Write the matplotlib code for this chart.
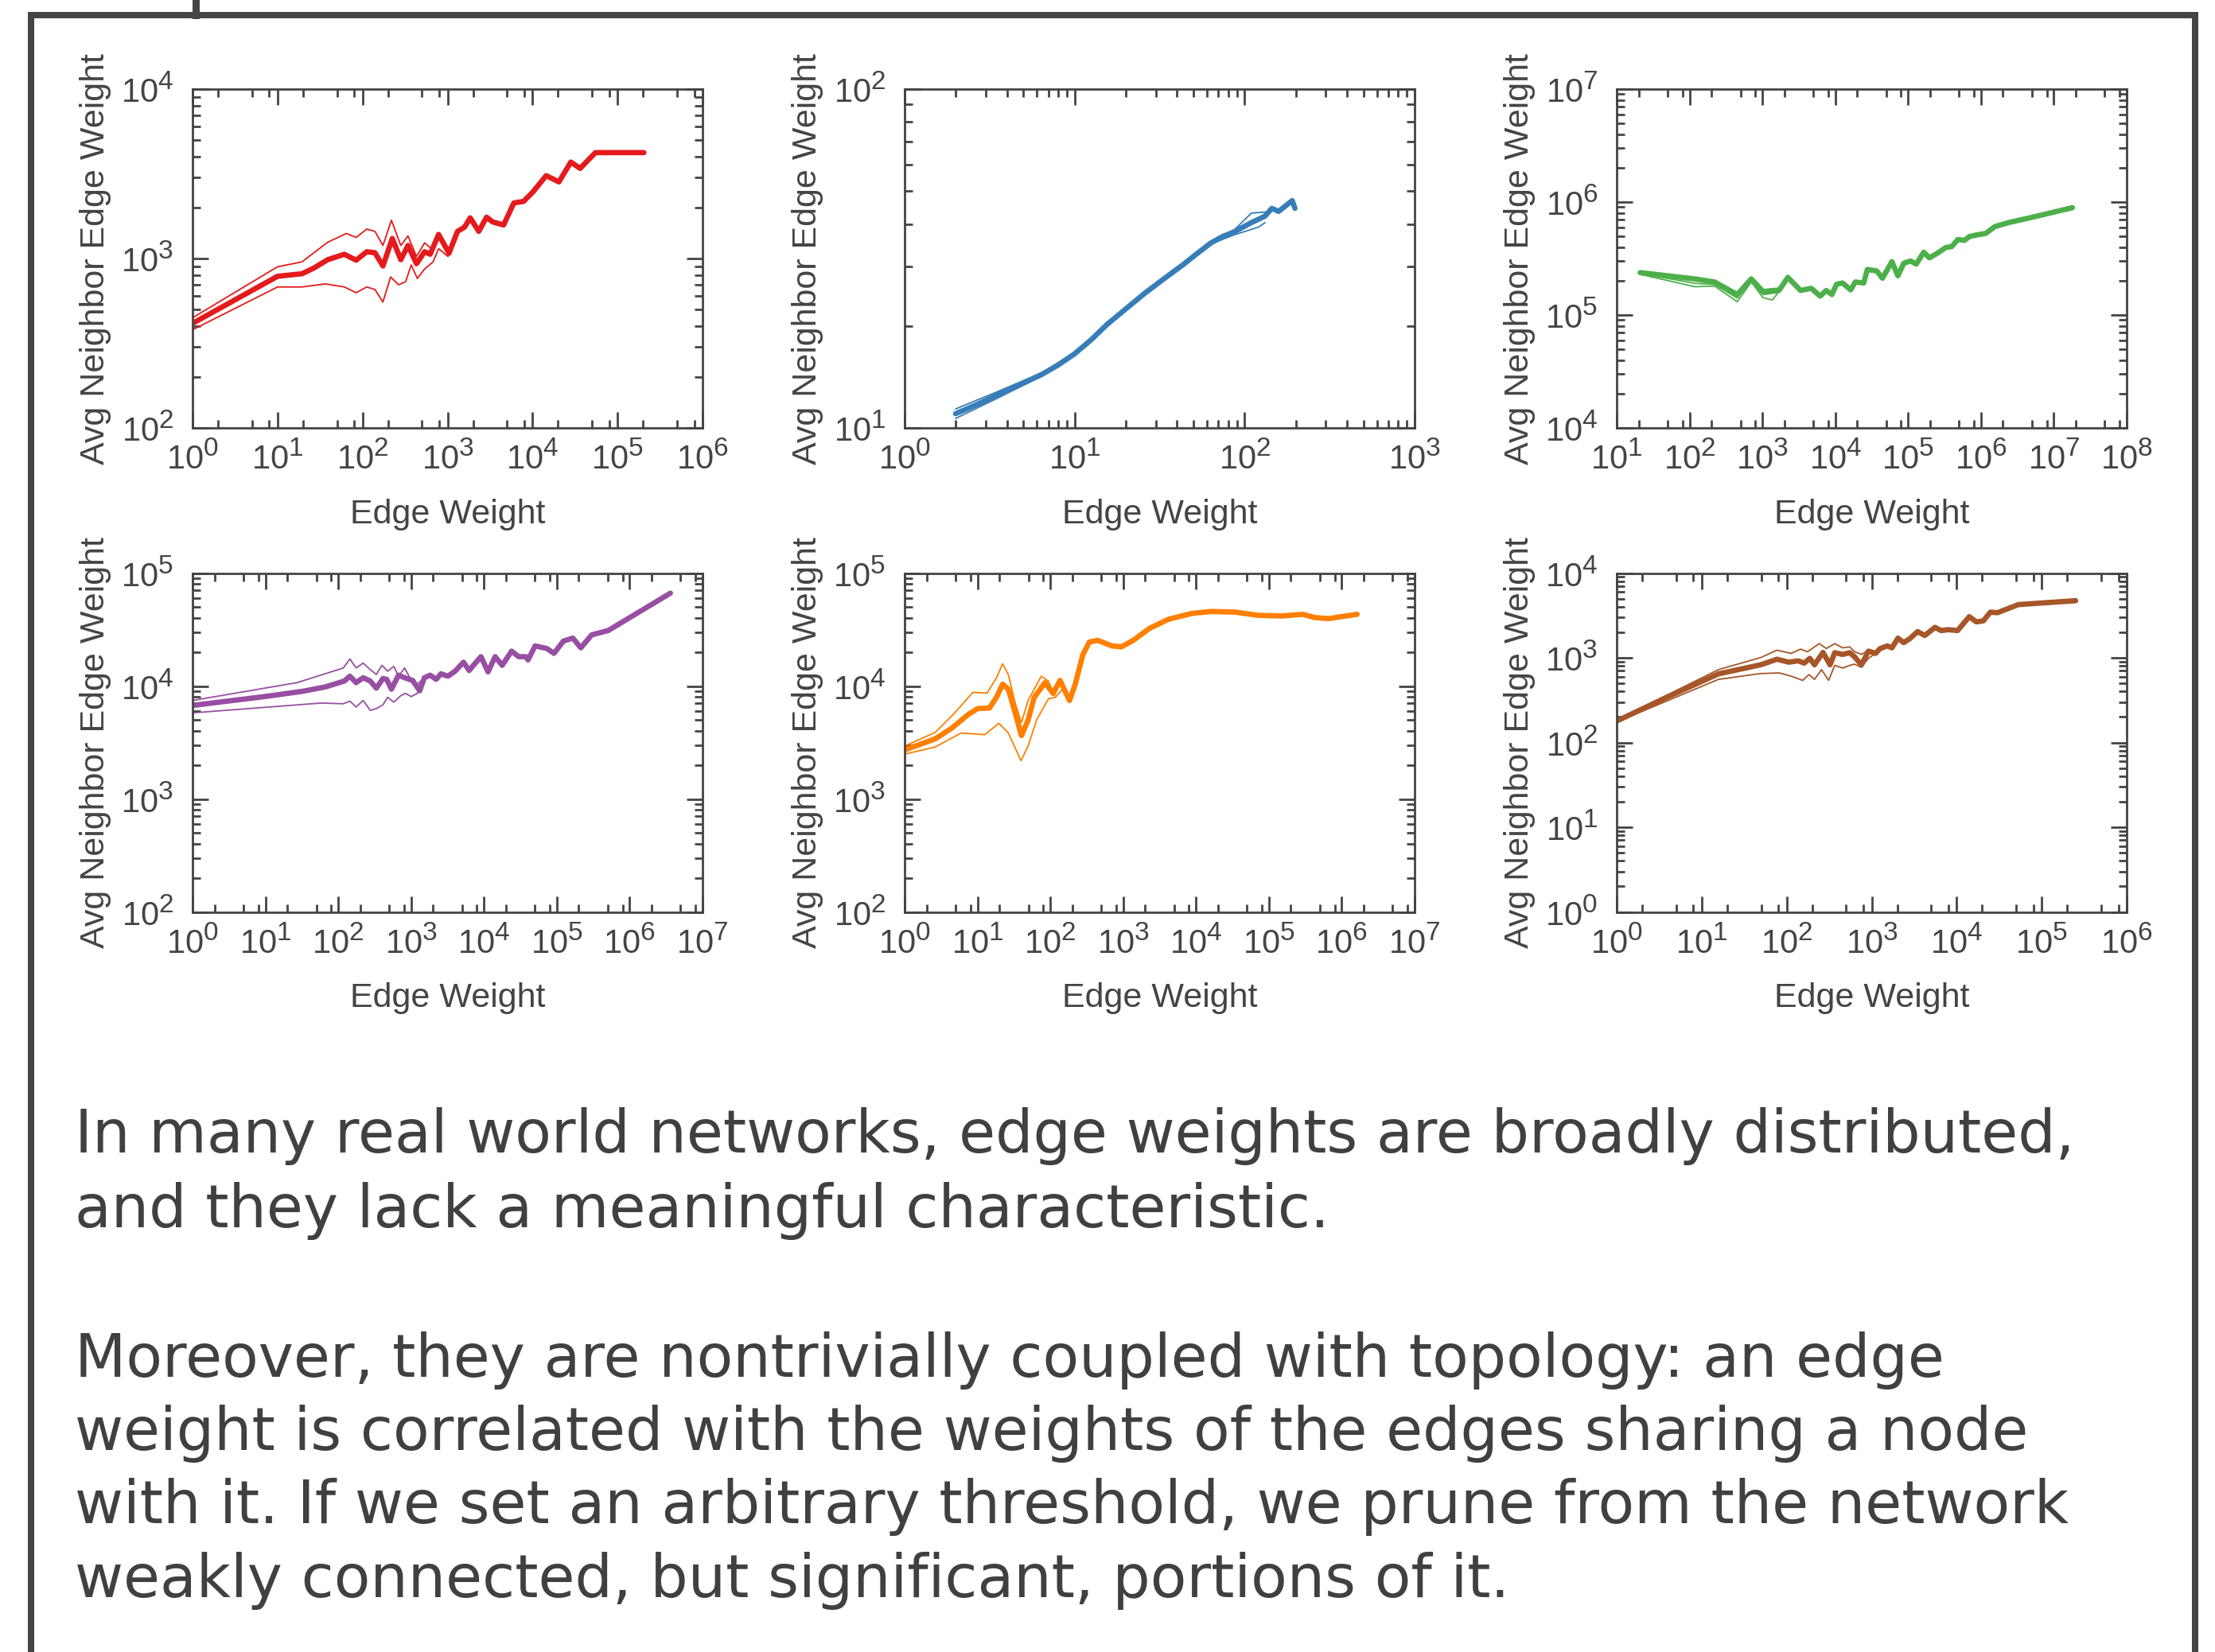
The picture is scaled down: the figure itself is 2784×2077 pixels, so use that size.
import numpy as np
import matplotlib
matplotlib.use('Agg')
import matplotlib.pyplot as plt
import matplotlib._mathtext as mathtext_internals
from matplotlib.patches import Rectangle
from matplotlib.lines import Line2D
from matplotlib.ticker import LogLocator, NullFormatter

plt.rcParams['font.family'] = ['Liberation Sans', 'DejaVu Sans']
plt.rcParams['mathtext.fontset'] = 'custom'
plt.rcParams['mathtext.rm'] = 'Liberation Sans'
plt.rcParams['mathtext.it'] = 'Liberation Sans:italic'
plt.rcParams['mathtext.default'] = 'regular'
# exponents in the original are a bit larger than matplotlib's default
mathtext_internals.SHRINK_FACTOR = 0.8

GREY = '#444444'
TEXT_GREY = '#404040'

# all values below are log10 of the plotted quantity
red_x = [0, 1.0, 1.287, 1.425, 1.59, 1.786, 1.925, 2.05, 2.146, 2.24, 2.35, 2.45, 2.535, 2.635, 2.73, 2.795,
         2.895, 3.017, 3.117, 3.2, 3.267, 3.367, 3.46, 3.53, 3.66, 3.78, 3.894, 4.005, 4.16, 4.31, 4.45, 4.56,
         4.74, 5.31]
red_y = [2.617, 2.895, 2.91, 2.943, 2.993, 3.025, 2.99, 3.04, 3.034, 2.956, 3.118, 2.993, 3.077, 2.969, 3.04,
         3.025, 3.142, 3.031, 3.16, 3.185, 3.24, 3.16, 3.244, 3.216, 3.198, 3.328, 3.337, 3.393, 3.489, 3.452,
         3.569, 3.532, 3.625, 3.625]
red_hi_x = [0, 1.0, 1.287, 1.59, 1.81, 1.925, 2.05, 2.146, 2.24, 2.34, 2.45, 2.535, 2.635, 2.73, 2.81, 2.895,
            3.017, 3.117]
red_hi_y = [2.65, 2.951, 2.98, 3.096, 3.148, 3.124, 3.174, 3.16, 3.077, 3.226, 3.077, 3.133, 3.012, 3.092,
            3.058, 3.151, 3.04, 3.16]
red_lo_x = [0, 1.0, 1.287, 1.564, 1.786, 1.925, 2.05, 2.146, 2.24, 2.33, 2.424, 2.507, 2.573, 2.645, 2.73,
            2.83, 2.895, 3.006, 3.117]
red_lo_y = [2.579, 2.832, 2.832, 2.85, 2.832, 2.798, 2.832, 2.817, 2.743, 2.891, 2.845, 2.863, 2.962, 2.882,
            2.938, 2.98, 3.058, 3.012, 3.16]

blue_x = [0.30, 0.416, 0.527, 0.665, 0.804, 0.901, 0.998, 1.095, 1.192, 1.303, 1.414, 1.525, 1.636, 1.719,
          1.802, 1.871, 1.94, 2.04, 2.12, 2.16, 2.2, 2.245, 2.28, 2.296]
blue_y = [1.042, 1.067, 1.093, 1.125, 1.157, 1.185, 1.218, 1.259, 1.306, 1.352, 1.398, 1.44, 1.481, 1.514,
          1.546, 1.565, 1.579, 1.606, 1.625, 1.648, 1.639, 1.657, 1.671, 1.648]
blue_hi_x = [0.30, 0.527, 0.804, 0.998, 1.192, 1.414, 1.636, 1.802, 1.94, 2.04, 2.12]
blue_hi_y = [1.056, 1.103, 1.162, 1.221, 1.308, 1.399, 1.482, 1.548, 1.585, 1.634, 1.637]
blue_lo_x = [0.30, 0.527, 0.804, 0.998, 1.192, 1.414, 1.636, 1.802, 1.94, 2.084, 2.12]
blue_lo_y = [1.028, 1.083, 1.152, 1.215, 1.304, 1.397, 1.479, 1.543, 1.57, 1.593, 1.606]

green_x = [1.322, 2.075, 2.345, 2.654, 2.847, 3.008, 3.233, 3.349, 3.523, 3.67, 3.793, 3.876, 3.954, 4.018,
           4.1, 4.211, 4.275, 4.39, 4.44, 4.57, 4.648, 4.777, 4.86, 4.94, 5.035, 5.112, 5.215, 5.292, 5.39,
           5.517, 5.6, 5.68, 5.775, 5.84, 5.935, 6.064, 6.193, 6.386, 6.676, 7.255]
green_y = [5.375, 5.319, 5.292, 5.181, 5.319, 5.208, 5.222, 5.333, 5.217, 5.236, 5.167, 5.217, 5.181, 5.272,
           5.283, 5.222, 5.292, 5.283, 5.403, 5.389, 5.325, 5.472, 5.347, 5.458, 5.478, 5.45, 5.556, 5.506,
           5.542, 5.597, 5.606, 5.667, 5.661, 5.694, 5.708, 5.722, 5.783, 5.819, 5.861, 5.95]
green_hi_x = [1.322, 2.075, 2.345, 2.654, 2.847, 3.008, 3.233, 3.349]
green_hi_y = [5.368, 5.28, 5.27, 5.15, 5.30, 5.18, 5.2, 5.32]
green_lo_x = [1.322, 2.075, 2.345, 2.654, 2.847, 3.008, 3.137, 3.349]
green_lo_y = [5.36, 5.25, 5.256, 5.117, 5.292, 5.153, 5.133, 5.306]

purple_x = [0, 0.983, 1.5, 1.824, 2.083, 2.16, 2.245, 2.342, 2.439, 2.523, 2.614, 2.665, 2.73, 2.827, 2.911,
            3.02, 3.118, 3.182, 3.26, 3.344, 3.409, 3.506, 3.603, 3.719, 3.797, 3.881, 3.959, 4.056, 4.153,
            4.25, 4.379, 4.476, 4.573, 4.605, 4.702, 4.864, 4.961, 5.091, 5.22, 5.33, 5.479, 5.705, 6.559]
purple_y = [3.828, 3.906, 3.952, 3.992, 4.044, 4.087, 4.03, 4.073, 4.044, 3.981, 4.067, 4.059, 3.972, 4.096,
            4.073, 4.05, 3.958, 4.073, 4.096, 4.059, 4.108, 4.087, 4.131, 4.211, 4.137, 4.203, 4.26, 4.125,
            4.26, 4.183, 4.309, 4.26, 4.26, 4.231, 4.355, 4.332, 4.289, 4.398, 4.424, 4.338, 4.453, 4.491, 4.822]
purple_hi_x = [0, 1.436, 1.759, 2.07, 2.16, 2.245, 2.342, 2.439, 2.523, 2.6, 2.678, 2.762, 2.827, 2.911, 3.001,
               3.085, 3.182]
purple_hi_y = [3.872, 4.03, 4.096, 4.16, 4.24, 4.16, 4.203, 4.145, 4.102, 4.183, 4.131, 4.174, 4.087, 4.16,
               4.05, 4.016, 4.073]
purple_lo_x = [0, 1.759, 2.07, 2.16, 2.245, 2.342, 2.439, 2.523, 2.614, 2.678, 2.762, 2.859, 2.924, 3.001,
               3.085, 3.15, 3.26]
purple_lo_y = [3.762, 3.849, 3.843, 3.866, 3.814, 3.872, 3.785, 3.8, 3.834, 3.9, 3.857, 3.915, 3.935, 3.906,
               3.935, 4.059, 4.096]

orange_x = [0, 0.42, 0.647, 0.873, 1.003, 1.164, 1.261, 1.345, 1.423, 1.52, 1.604, 1.695, 1.779, 1.927, 2.037,
            2.134, 2.199, 2.264, 2.342, 2.445, 2.536, 2.652, 2.846, 2.975, 3.137, 3.363, 3.622, 3.946, 4.204,
            4.528, 4.851, 5.175, 5.466, 5.627, 5.821, 6.21]
orange_y = [3.434, 3.532, 3.627, 3.748, 3.8, 3.805, 3.9, 4.016, 3.972, 3.756, 3.561, 3.699, 3.9, 4.03, 3.935,
            4.05, 3.958, 3.872, 4.016, 4.275, 4.39, 4.404, 4.355, 4.347, 4.404, 4.511, 4.591, 4.643, 4.66,
            4.655, 4.626, 4.62, 4.635, 4.606, 4.597, 4.635]
orange_hi_x = [0, 0.42, 0.679, 0.938, 1.132, 1.261, 1.345, 1.423, 1.52, 1.604, 1.695, 1.876, 1.973, 2.057,
               2.134, 2.199]
orange_hi_y = [3.468, 3.589, 3.756, 3.944, 3.938, 4.073, 4.197, 4.102, 3.843, 3.676, 3.872, 4.087, 4.044,
               3.915, 4.05, 3.958]
orange_lo_x = [0, 0.42, 0.776, 1.1, 1.294, 1.423, 1.598, 1.695, 1.811, 1.973, 2.07, 2.167, 2.264, 2.342]
orange_lo_y = [3.397, 3.46, 3.584, 3.569, 3.67, 3.584, 3.339, 3.468, 3.699, 3.886, 3.9, 3.972, 3.857, 4.016]

brown_x = [0, 0.59, 1.197, 1.693, 1.886, 2.024, 2.135, 2.206, 2.272, 2.327, 2.427, 2.51, 2.565, 2.659, 2.741,
           2.797, 2.879, 2.962, 3.045, 3.1, 3.183, 3.238, 3.309, 3.376, 3.447, 3.541, 3.624, 3.745, 3.817, 3.9,
           4.01, 4.148, 4.231, 4.314, 4.396, 4.479, 4.727, 5.4]
brown_y = [2.253, 2.534, 2.81, 2.917, 2.983, 2.948, 2.964, 2.937, 2.994, 2.917, 3.063, 2.917, 3.06, 3.04, 3.06,
           3.013, 2.917, 3.079, 3.052, 3.109, 3.14, 3.117, 3.232, 3.179, 3.225, 3.309, 3.263, 3.359, 3.321,
           3.332, 3.321, 3.486, 3.424, 3.436, 3.539, 3.532, 3.628, 3.674]
brown_hi_x = [0, 1.197, 1.693, 1.886, 2.052, 2.162, 2.245, 2.311, 2.383, 2.466, 2.565, 2.659, 2.741, 2.797,
              2.879, 2.962, 3.045]
brown_hi_y = [2.265, 2.86, 3.002, 3.09, 3.052, 3.102, 3.071, 3.117, 3.167, 3.109, 3.167, 3.117, 3.129, 3.071,
              3.04, 3.09, 3.052]
brown_lo_x = [0, 1.197, 1.693, 1.914, 2.052, 2.19, 2.261, 2.327, 2.41, 2.493, 2.565, 2.659, 2.741, 2.797,
              2.879, 2.962, 3.045]
brown_lo_y = [2.242, 2.745, 2.814, 2.821, 2.783, 2.733, 2.802, 2.745, 2.86, 2.733, 2.91, 2.879, 2.91, 2.925,
              2.887, 2.994, 3.052]

# axis ranges in decades
x_ranges = [(0, 6), (0, 3), (1, 8), (0, 7), (0, 7), (0, 6)]
y_ranges = [(2, 4), (1, 2), (4, 7), (2, 5), (2, 5), (0, 4)]
colors = ['#e41a1c', '#377eb8', '#4daf4a', '#984ea3', '#ff7f00', '#a65628']

panel_lines = [
    [(red_hi_x, red_hi_y), (red_lo_x, red_lo_y), (red_x, red_y)],
    [(blue_hi_x, blue_hi_y), (blue_lo_x, blue_lo_y), (blue_x, blue_y)],
    [(green_hi_x, green_hi_y), (green_lo_x, green_lo_y), (green_x, green_y)],
    [(purple_hi_x, purple_hi_y), (purple_lo_x, purple_lo_y), (purple_x, purple_y)],
    [(orange_hi_x, orange_hi_y), (orange_lo_x, orange_lo_y), (orange_x, orange_y)],
    [(brown_hi_x, brown_hi_y), (brown_lo_x, brown_lo_y), (brown_x, brown_y)],
]

paragraph = [
    "In many real world networks, edge weights are broadly distributed,",
    "and they lack a meaningful characteristic.",
    "Moreover, they are nontrivially coupled with topology: an edge",
    "weight is correlated with the weights of the edges sharing a node",
    "with it. If we set an arbitrary threshold, we prune from the network",
    "weakly connected, but significant, portions of it.",
]

W, H = 2784, 2077
DPI = 100
PT = 72.0 / DPI  # pixels -> points

fig = plt.figure(figsize=(W / DPI, H / DPI), dpi=DPI)
fig.patch.set_facecolor('white')

# slide frame
fig.add_artist(Rectangle((39 / W, -0.05), (2758.5 - 39) / W, 1.05 - 19 / H, transform=fig.transFigure,
                         fill=False, ec=GREY, lw=8 * PT))
fig.add_artist(Line2D([245.5 / W, 245.5 / W], [1.0, 1 - 19 / H], transform=fig.transFigure,
                      color=GREY, lw=9 * PT))

lefts = [242, 1137, 2032]
tops = [112, 720.5]
AW, AH = 641, 426

for i in range(6):
    row, col = divmod(i, 3)
    ax = fig.add_axes([lefts[col] / W, 1 - (tops[row] + AH) / H, AW / W, AH / H])
    ax.set_xscale('log')
    ax.set_yscale('log')
    lines = panel_lines[i]
    for k, (xs, ys) in enumerate(lines):
        lw = 4.8 if k == len(lines) - 1 else 1.3
        ax.plot(10 ** np.array(xs), 10 ** np.array(ys), color=colors[i], lw=lw,
                solid_capstyle='round', solid_joinstyle='round')
    x0, x1 = x_ranges[i]
    y0, y1 = y_ranges[i]
    ax.set_xlim(10.0 ** x0, 10.0 ** x1)
    ax.set_ylim(10.0 ** y0, 10.0 ** y1)

    # wide axes only get minor ticks at 2, 5, 8
    xsubs = np.arange(2, 10) if (x1 - x0) <= 4 else [2, 5, 8]
    ax.xaxis.set_major_locator(LogLocator(base=10, numticks=30))
    ax.xaxis.set_minor_locator(LogLocator(base=10, subs=xsubs, numticks=30))
    ax.yaxis.set_major_locator(LogLocator(base=10, numticks=30))
    ax.yaxis.set_minor_locator(LogLocator(base=10, subs=np.arange(2, 10), numticks=30))
    ax.xaxis.set_minor_formatter(NullFormatter())
    ax.yaxis.set_minor_formatter(NullFormatter())

    ax.tick_params(which='both', direction='in', top=True, right=True, color=GREY,
                   labelcolor=GREY, width=2)
    ax.tick_params(which='major', length=20 * PT, labelsize=30)
    ax.tick_params(which='minor', length=10 * PT)
    ax.tick_params(axis='x', pad=13)
    ax.tick_params(axis='y', pad=17)
    for s in ax.spines.values():
        s.set_color(GREY)
        s.set_linewidth(2)

    ax.set_xlabel('Edge Weight', fontsize=31, color=GREY)
    ax.set_ylabel('Avg Neighbor Edge Weight', fontsize=31, color=GREY)
    ax.xaxis.set_label_coords(0.5, -0.208)
    ax.yaxis.set_label_coords(-0.159, 0.5)

# paragraph text, one line at a time
baselines = [1449, 1543, 1731, 1823, 1915, 2008]
for line, b in zip(paragraph, baselines):
    fig.text(94 / W, 1 - b / H, line, fontsize=53.7, color=TEXT_GREY, family='DejaVu Sans',
             ha='left', va='baseline')

fig.savefig('out.png', dpi=DPI, facecolor='white')
